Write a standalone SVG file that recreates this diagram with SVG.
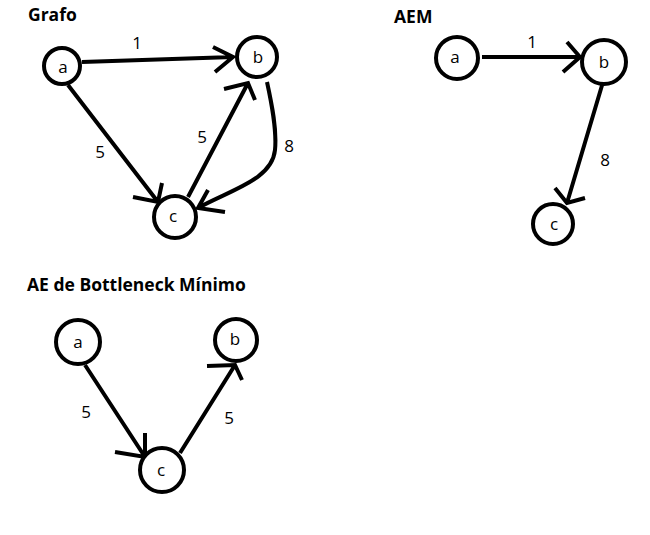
<svg xmlns="http://www.w3.org/2000/svg" width="650" height="535" viewBox="0 0 650 535">
<style>
.title{font-family:"Open Sans","Liberation Sans",sans-serif;font-weight:bold;font-size:17.5px;fill:#000}
.node circle{fill:#fff;stroke:#000;stroke-width:4}
.node text{font-family:"Open Sans","Liberation Sans",sans-serif;font-size:17px;fill:#000;text-anchor:middle}
.edge{fill:none;stroke:#000;stroke-width:4;stroke-linejoin:miter;stroke-linecap:butt}
.lbl{font-family:"Open Sans","Liberation Sans",sans-serif;font-size:17px;fill:#000;text-anchor:middle}
</style>
<rect width="650" height="535" fill="#fff"/>
<text class="title" x="28" y="21">Grafo</text>
<text class="title" x="394" y="23">AEM</text>
<text class="title" x="27" y="291">AE de Bottleneck Mínimo</text>

<g id="connectors">
  <!-- Grafo -->
  <path class="edge" d="M82,62 L233,57 M213,47 L233,57 L215,72"/>
  <path class="edge" d="M68,85 L158,202 M162,183 L158,202 L133,197"/>
  <path class="edge" d="M188,197 L248,83 M224,89 L248,83 L255,100"/>
  <path class="edge" d="M267,82 C272,105 277,130 275,150 C272,180 230,190 198,208 M208,190 L198,208 L225,212"/>
  <text class="lbl" x="137" y="49">1</text>
  <text class="lbl" x="100" y="158">5</text>
  <text class="lbl" x="202" y="143">5</text>
  <text class="lbl" x="289" y="152">8</text>
  <!-- AEM -->
  <path class="edge" d="M482,57 L580,57 M567,42 L580,57 L563,72"/>
  <path class="edge" d="M603,82 L567,203 M555,188 L567,203 L585,198"/>
  <text class="lbl" x="532" y="48">1</text>
  <text class="lbl" x="605" y="166">8</text>
  <!-- Bottleneck -->
  <path class="edge" d="M85,365 L145,457 M145,433 L145,457 L115,452"/>
  <path class="edge" d="M180,453 L235,365 M207,366 L235,365 L242,380"/>
  <text class="lbl" x="86" y="418">5</text>
  <text class="lbl" x="229" y="424">5</text>
</g>

<g id="g1-a" class="node"><circle cx="62" cy="66" r="18"/><text x="63" y="73">a</text></g>
<g id="g1-b" class="node"><circle cx="257" cy="57" r="20"/><text x="258" y="63">b</text></g>
<g id="g1-c" class="node"><circle cx="175" cy="217" r="21"/><text x="173" y="222">c</text></g>

<g id="g2-a" class="node"><circle cx="457" cy="58" r="21"/><text x="455" y="63">a</text></g>
<g id="g2-b" class="node"><circle cx="604" cy="62" r="22"/><text x="604" y="68">b</text></g>
<g id="g2-c" class="node"><circle cx="553" cy="224" r="20"/><text x="554" y="230">c</text></g>

<g id="g3-a" class="node"><circle cx="78" cy="342" r="22"/><text x="78" y="348">a</text></g>
<g id="g3-b" class="node"><circle cx="236" cy="340" r="21"/><text x="235" y="345">b</text></g>
<g id="g3-c" class="node"><circle cx="162" cy="470" r="22"/><text x="161" y="476">c</text></g>
</svg>
